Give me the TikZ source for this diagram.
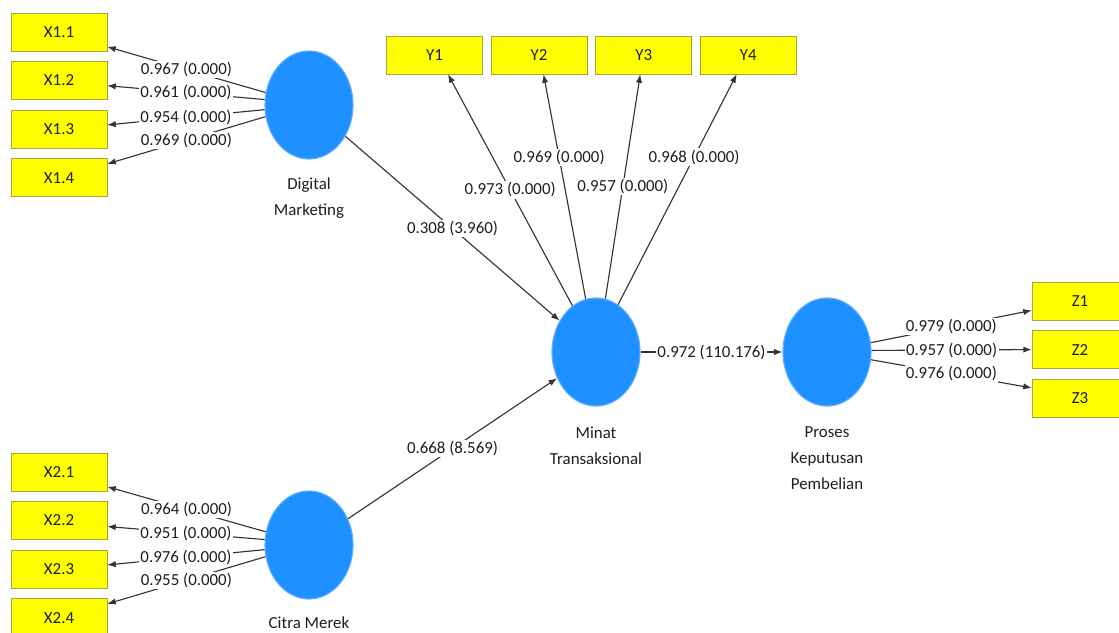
\documentclass[tikz,border=0pt]{standalone}
\usepackage{fontspec}
\setmainfont{Carlito}
\usetikzlibrary{positioning,arrows.meta,shapes.geometric}
\definecolor{lvblue}{RGB}{30,144,255}
\definecolor{lvedge}{RGB}{95,175,255}
\definecolor{indfill}{RGB}{255,255,0}
\definecolor{indedge}{RGB}{165,165,70}
\definecolor{ink}{RGB}{30,30,30}

\begin{document}
\begin{tikzpicture}[x=0.025cm, y=-0.025cm,
  ind/.style={draw=indedge, fill=indfill, minimum width=2.4cm, minimum height=0.95cm, inner sep=0pt, font=\fontsize{12}{14}\selectfont, text=ink},
  lv/.style={ellipse, draw=lvedge, line width=0.8pt, fill=lvblue, minimum width=2.2cm, minimum height=2.7cm, inner sep=0pt},
  lvname/.style={align=center, inner sep=0pt, font=\fontsize{12}{18.5}\selectfont, text=ink},
  arr/.style={-{Latex[length=6pt,width=4.5pt]}, draw=black!80, line width=0.8pt},
  lab/.style={fill=white, inner sep=1pt, font=\fontsize{12}{14}\selectfont, text=ink}
]
\useasboundingbox (0,0) rectangle (1119,632);

% latent variables
\node[lv] (dm) at (309,105) {};
\node[lv] (cm) at (309,545) {};
\node[lv] (mt) at (596,352) {};
\node[lv] (pk) at (827,352) {};
\node[lvname, below=0.45cm of dm] (dmname) {Digital\\Marketing};
\node[lvname, below=0.42cm of cm] (cmname) {Citra Merek};
\node[lvname, below=0.5cm of mt] (mtname) {Minat\\Transaksional};
\node[lvname, below=0.5cm of pk] (pkname) {Proses\\Keputusan\\Pembelian};

% indicators
\node[ind] (x11) at (59,32) {X1.1};
\node[ind, below=0.25cm of x11] (x12) {X1.2};
\node[ind, below=0.25cm of x12] (x13) {X1.3};
\node[ind, below=0.25cm of x13] (x14) {X1.4};
\node[ind] (x21) at (59,472) {X2.1};
\node[ind, below=0.25cm of x21] (x22) {X2.2};
\node[ind, below=0.25cm of x22] (x23) {X2.3};
\node[ind, below=0.25cm of x23] (x24) {X2.4};
\node[ind] (y1) at (434.5,55) {Y1};
\node[ind, right=0.2cm of y1] (y2) {Y2};
\node[ind, right=0.2cm of y2] (y3) {Y3};
\node[ind, right=0.2cm of y3] (y4) {Y4};
\node[ind] (z1) at (1080,301) {Z1};
\node[ind, below=0.25cm of z1] (z2) {Z2};
\node[ind, below=0.25cm of z2] (z3) {Z3};

% outer loadings
\draw[arr] (dm.164) -- node[lab]{0.967 (0.000)} (x11.-17);
\draw[arr] (dm.173) -- node[lab]{0.961 (0.000)} (x12.-6);
\draw[arr] (dm.186) -- node[lab]{0.954 (0.000)} (x13.5);
\draw[arr] (dm.195) -- node[lab]{0.969 (0.000)} (x14.16);
\draw[arr] (cm.163) -- node[lab]{0.964 (0.000)} (x21.-17);
\draw[arr] (cm.173) -- node[lab]{0.951 (0.000)} (x22.-7);
\draw[arr] (cm.186) -- node[lab]{0.976 (0.000)} (x23.5);
\draw[arr] (cm.195) -- node[lab]{0.955 (0.000)} (x24.16);
\draw[arr] (mt.117) -- node[lab]{0.973 (0.000)} (y1.-55);
\draw[arr] (mt.101) -- node[lab, pos=0.63]{0.969 (0.000)} (y2.-77);
\draw[arr] (mt.80) -- node[lab]{0.957 (0.000)} (y3.-100);
\draw[arr] (mt.65) -- node[lab, pos=0.64]{0.968 (0.000)} (y4.-121);
\draw[arr] (pk.12) -- node[lab]{0.979 (0.000)} (z1.191);
\draw[arr] (pk.2) -- node[lab]{0.957 (0.000)} (z2.180);
\draw[arr] (pk.-10) -- node[lab]{0.976 (0.000)} (z3.168);

% inner paths
\draw[arr] (dm) -- node[lab]{0.308 (3.960)} (mt);
\draw[arr] (cm) -- node[lab]{0.668 (8.569)} (mt);
\draw[arr] (mt) -- node[lab]{0.972 (110.176)} (pk);
\end{tikzpicture}
\end{document}
